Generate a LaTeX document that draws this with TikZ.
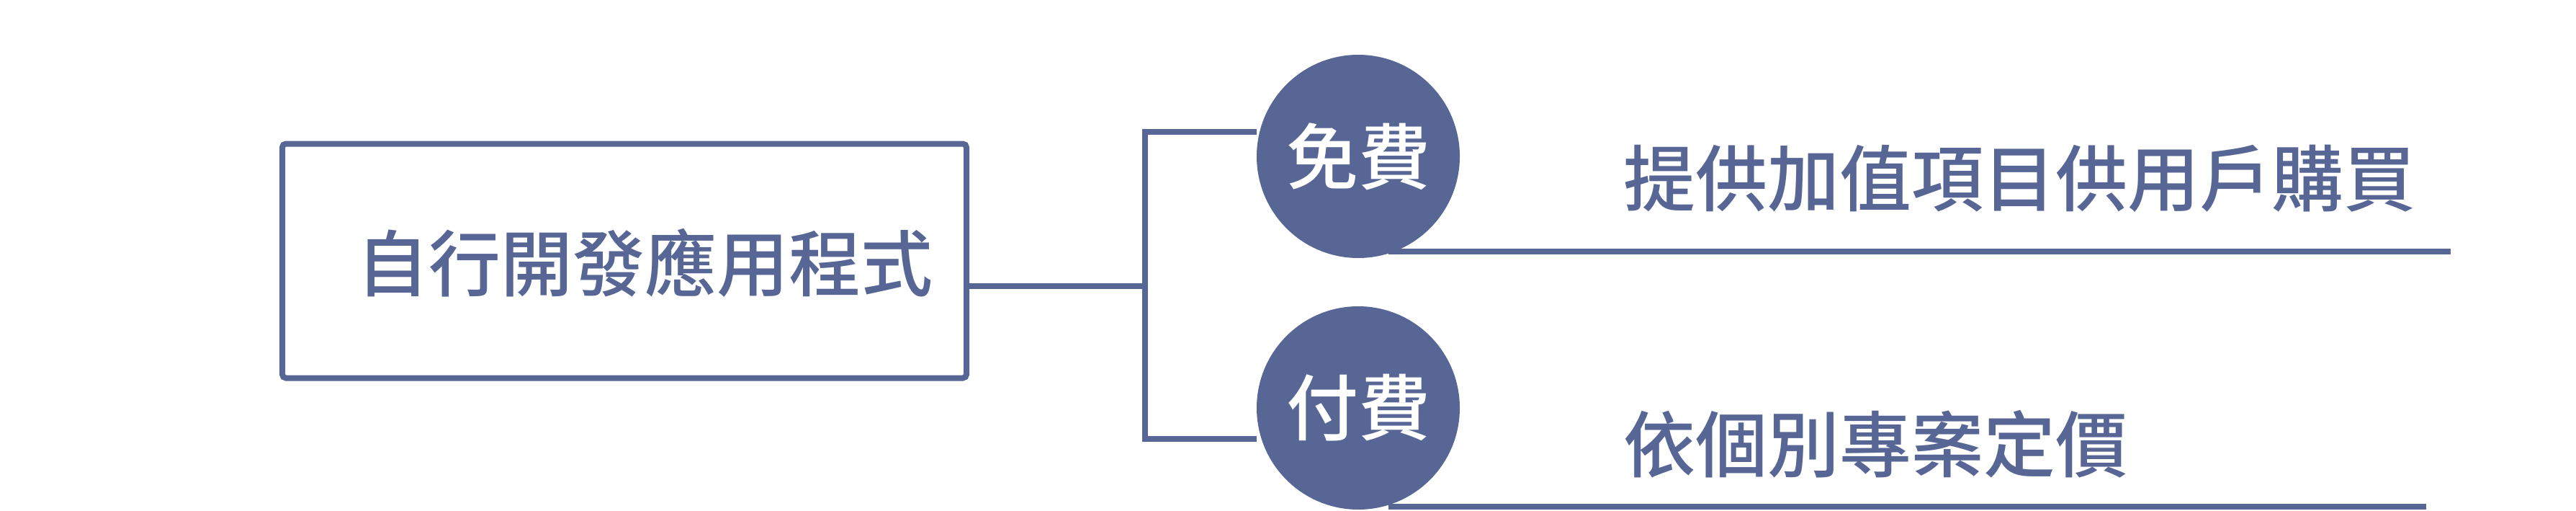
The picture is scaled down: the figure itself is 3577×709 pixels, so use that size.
\documentclass[tikz,border=0pt]{standalone}
\usepackage{fontspec}
\newfontfamily\cjk{Noto Sans CJK TC Medium}
\definecolor{slateblue}{RGB}{87, 102, 149}
\usetikzlibrary{backgrounds}

\begin{document}
\begin{tikzpicture}[x=1pt, y=-1pt,
		link/.style={slateblue, line width=8pt},
		mainbox/.style={draw=slateblue, line width=8pt, rounded corners=5pt, minimum width=950pt, minimum height=325pt, inner sep=0pt},
		pricedot/.style={circle, fill=slateblue, minimum size=282pt, inner sep=0pt, text=white, font=\cjk\fontsize{100pt}{104pt}\selectfont},
		bigtext/.style={text=slateblue, inner sep=0pt, anchor=west, font=\cjk\fontsize{100pt}{104pt}\selectfont}]
	
	\useasboundingbox (0,0) rectangle (3577,709);
	
	% Box
	\node[mainbox] (app) at (867,362) {};
	\node[bigtext] (apptxt) at (495,365) {自行開發應用程式};
	
	% Circles
	\node[pricedot] (free) at (1886,217) {免費};
	\node[pricedot] (paid) at (1886,566) {付費};
	
	% Branches
	\coordinate (jct) at (1590,397);
	\begin{scope}[on background layer]
		\draw[link] (app.east |- jct) -- (jct);
		\draw[link] ([yshift=34pt]free.west) -| (jct) |- ([yshift=-43pt]paid.west);
	\end{scope}
	
	% Descriptions
	\node[bigtext] (freetxt) at (2254,248) {提供加值項目供用戶購買};
	\node[bigtext] (paidtxt) at (2254,616) {依個別專案定價};
	\coordinate (freeline) at (1928,349);
	\coordinate (freeend) at (3403,349);
	\coordinate (paidline) at (1928,703);
	\coordinate (paidend) at (3369,703);
	\draw[link] (freeline) -- (freeend);
	\draw[link] (paidline) -- (paidend);
	
\end{tikzpicture}
\end{document}
